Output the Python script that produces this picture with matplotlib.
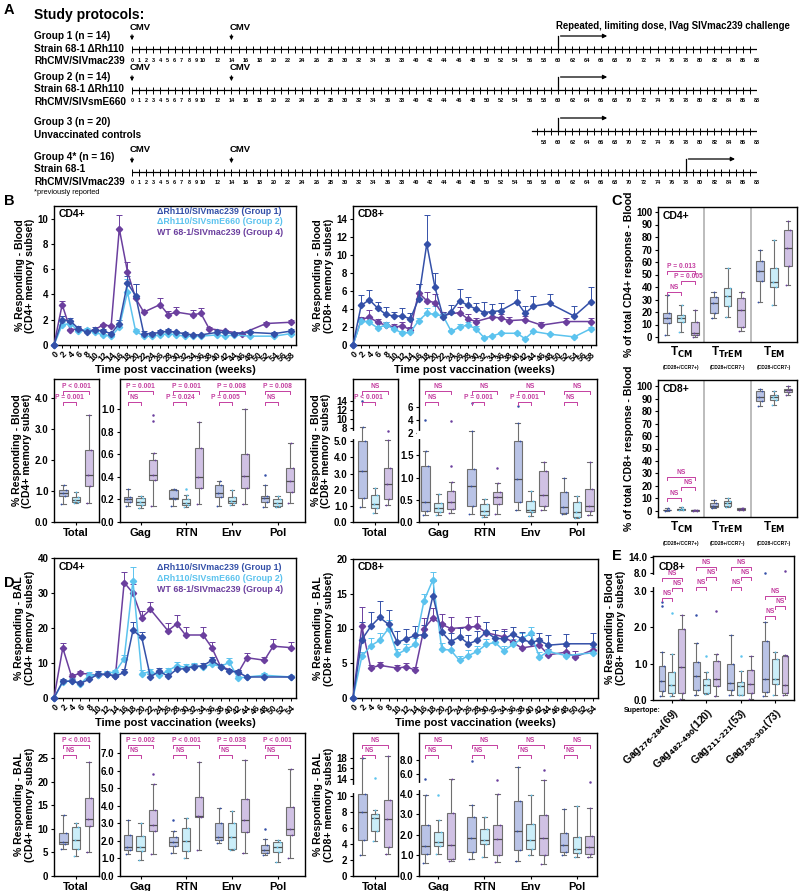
import numpy as np
import matplotlib.pyplot as plt
from matplotlib.transforms import blended_transform_factory

plt.rcParams['font.family'] = ['Liberation Sans', 'DejaVu Sans']
plt.rcParams['font.weight'] = 'bold'
plt.rcParams['axes.labelweight'] = 'bold'
plt.rcParams['mathtext.default'] = 'bf'
plt.rcParams['axes.linewidth'] = 1.0

C1, C2, C4 = '#3450a8', '#5cc3ee', '#6b3f9e'
F1, F2, F4 = '#b9c3e6', '#cbeef9', '#d0c1e4'
PINK = '#c43fa0'
EDGE = '#6f6f6f'

# ---------------- data ----------------
# panel B, blood, mean + SEM
wk_b12 = [0, 2, 4, 6, 8, 10, 12, 14, 16, 18, 20, 22, 24, 26, 28, 30, 32, 34, 36, 40, 42, 44, 48, 54, 58]
wk_b4 = [0, 2, 4, 6, 8, 10, 12, 14, 16, 18, 20, 22, 26, 28, 30, 34, 36, 38, 42, 46, 52, 58]
b_cd4_g1 = [0, 2.0, 1.9, 1.3, 1.0, 1.2, 1.1, 0.9, 1.7, 4.9, 3.9, 0.9, 0.9, 1.0, 1.1, 1.0, 0.9, 0.8, 0.8, 1.0, 1.0, 0.9, 1.0, 0.9, 1.1]
b_cd4_e1 = [0, .3, .2, .2, .1, .2, .2, .1, .3, .6, .9, .2, .1, .2, .15, .1, .1, .1, .1, .15, .1, .1, .1, .1, .15]
b_cd4_g2 = [0, 1.6, 1.7, 1.1, 1.2, 1.0, 0.8, 0.7, 1.4, 4.2, 1.1, 0.7, 0.7, 0.8, 0.9, 0.8, 0.7, 0.7, 0.7, 0.8, 0.7, 0.8, 0.7, 0.7, 0.9]
b_cd4_e2 = [0, .2, .2, .1, .15, .1, .1, .1, .3, 1.0, .2, .1, .1, .1, .1, .1, .1, .1, .1, .1, .1, .1, .1, .1, .1]
b_cd4_g4 = [0, 3.2, 1.2, 1.3, 1.1, 1.2, 1.6, 1.5, 9.2, 5.8, 3.7, 2.6, 3.2, 2.4, 2.6, 2.4, 2.5, 1.3, 1.1, 0.9, 1.7, 1.8]
b_cd4_e4 = [0, .3, .1, .1, .1, .1, .1, .1, 1.1, .8, 1.1, .2, .5, .3, .4, .4, .4, .1, .1, .1, .1, .15]
b_cd8_g1 = [0, 4.4, 5.0, 4.1, 3.4, 3.2, 3.2, 2.9, 5.1, 11.2, 6.4, 3.1, 3.7, 4.9, 4.4, 4.0, 3.6, 3.7, 3.8, 4.8, 3.5, 4.3, 4.6, 3.2, 4.8]
b_cd8_e1 = [0, 1.1, 1.1, .7, .8, .5, .9, .7, 1.7, 3.2, 1.6, .6, .7, 1.3, .9, .7, 1.2, .8, .9, 1.3, .8, 1.1, 1.1, 1.1, 1.6]
b_cd8_g2 = [0, 2.7, 2.5, 1.9, 2.2, 1.8, 1.3, 1.4, 2.7, 3.5, 3.4, 3.2, 1.5, 2.0, 2.2, 1.8, 0.8, 1.0, 1.3, 1.3, 0.7, 1.5, 1.2, 0.9, 1.8]
b_cd8_e2 = [0, .3, .3, .2, .3, .2, .2, .2, .3, .6, .9, .3, .2, .3, .3, .3, .1, .1, .1, .1, .1, .1, .1, .1, .2]
b_cd8_g4 = [0, 2.8, 3.1, 2.5, 2.2, 2.0, 2.1, 1.7, 5.8, 4.9, 4.7, 3.3, 3.6, 2.9, 2.6, 3.1, 3.0, 2.7, 2.8, 2.2, 2.6, 2.6]
b_cd8_e4 = [0, .3, .8, .4, .4, .3, .4, .3, 1.0, 1.0, 1.0, .4, .6, .5, .4, .5, .4, .4, .4, .4, .4, .4]

# panel D, BAL
wk_d12 = [0, 2, 4, 6, 8, 10, 12, 14, 16, 18, 20, 22, 24, 26, 28, 30, 32, 34, 36, 38, 40, 42, 44, 48, 54]
wk_d4 = [0, 2, 4, 6, 10, 12, 14, 16, 18, 20, 22, 26, 28, 30, 34, 36, 38, 42, 44, 48, 50, 54]
d_cd4_g1 = [0, 4.8, 4.8, 4.2, 5.3, 6.8, 6.8, 6.2, 7.3, 19.3, 17.4, 6.0, 7.7, 6.2, 8.2, 8.4, 9.0, 9.2, 10.8, 9.0, 7.7, 7.4, 6.0, 6.0, 6.0]
d_cd4_e1 = [0, .5, .5, .6, .8, 1.0, .6, .6, 1.0, 2.3, 1.5, .8, .8, .7, .8, .8, .8, .8, .8, .6, .6, .7, .4, .4, .4]
d_cd4_g2 = [0, 4.5, 5.0, 4.0, 6.5, 6.5, 7.0, 7.5, 11.2, 33.5, 7.0, 7.5, 6.5, 7.8, 9.2, 8.8, 9.2, 8.8, 9.7, 9.0, 10.2, 5.7, 6.0, 6.5, 6.0]
d_cd4_e2 = [0, .6, .6, .6, .8, .8, .6, .6, 1.2, 4.0, 1.0, .8, .8, .9, 1.1, .8, .8, .7, .8, .6, 1.2, .6, .4, .6, .5]
d_cd4_g4 = [0, 14.3, 6.2, 7.1, 6.5, 6.8, 6.2, 33.0, 30.0, 23.0, 25.3, 19.2, 21.2, 18.0, 18.0, 14.4, 9.0, 7.2, 11.5, 10.8, 14.8, 14.4]
d_cd4_e4 = [0, 1.3, .6, .5, .6, .4, .4, 3.0, 2.5, 2.0, 2.0, 2.2, 2.5, 2.2, 2.2, 1.6, .7, .8, 1.3, 1.0, 2.2, 1.5]
d_cd8_g1 = [0, 8.4, 10.3, 11.6, 10.6, 8.0, 8.5, 9.0, 9.1, 14.7, 9.5, 8.1, 8.8, 7.8, 8.3, 9.5, 8.6, 8.5, 9.2, 8.5, 8.0, 8.3, 7.6, 7.8, 7.8]
d_cd8_e1 = [0, 2.5, 2.1, 2.3, 2.1, 1.6, 1.4, 1.4, 1.4, 2.2, 1.3, 1.3, 1.3, 1.3, 1.3, 1.4, 1.2, 1.2, 1.0, 1.0, 1.0, 1.0, 1.5, 1.4, 1.6]
d_cd8_g2 = [0, 6.0, 7.5, 8.3, 10.0, 6.3, 7.0, 7.7, 14.0, 17.0, 7.0, 6.9, 5.4, 6.1, 6.7, 7.7, 8.0, 6.8, 7.7, 8.5, 9.3, 5.9, 6.7, 6.1, 6.5]
d_cd8_e2 = [0, .6, 1.2, 1.1, 1.2, .8, .8, 1.0, 1.0, 1.1, .9, .8, .7, .8, .8, .8, .7, .7, .8, .8, .9, .7, .8, .7, .8]
d_cd8_g4 = [0, 10.3, 4.3, 4.7, 4.3, 4.5, 4.0, 10.0, 11.5, 10.6, 10.0, 10.2, 10.3, 9.4, 8.8, 8.0, 7.2, 7.6, 6.2, 6.6, 5.9, 6.9]
d_cd8_e4 = [0, 2.8, .5, .5, .4, .6, .5, 1.5, 1.5, 1.5, 1.6, 1.4, 1.5, 1.6, 1.2, 1.2, 1.0, 1.1, .9, .9, .8, .9]

# box plots: [whisker low, q1, median, q3, whisker high, (outliers)]
b4tot_g1 = [[0.57, 0.85, 0.93, 1.02, 1.20]]
b4tot_g2 = [[0.60, 0.65, 0.70, 0.80, 0.98]]
b4tot_g4 = [[0.62, 1.15, 1.52, 2.33, 3.45]]
b4ag_g1 = [[0.14, 0.18, 0.20, 0.22, 0.29], [0.14, 0.20, 0.21, 0.28, 0.29], [0.14, 0.22, 0.26, 0.33, 0.36], [0.13, 0.18, 0.21, 0.23, 0.33, [0.42]]]
b4ag_g2 = [[0.12, 0.15, 0.18, 0.21, 0.23], [0.13, 0.15, 0.17, 0.20, 0.24, [0.29]], [0.15, 0.17, 0.19, 0.22, 0.28], [0.13, 0.14, 0.17, 0.20, 0.23]]
b4ag_g4 = [[0.14, 0.37, 0.42, 0.55, 0.61, [0.90, 0.95]], [0.16, 0.30, 0.40, 0.66, 0.89], [0.16, 0.30, 0.41, 0.60, 1.00], [0.17, 0.27, 0.36, 0.48, 0.70]]
b8tot_g1 = [[0.95, 1.50, 3.15, 5.00, 8.10, [13.8]]]
b8tot_g2 = [[0.55, 0.85, 1.10, 1.65, 2.10]]
b8tot_g4 = [[1.05, 1.40, 2.35, 3.35, 5.05, [7.2]]]
b8ag_g1 = [[0.15, 0.25, 0.45, 1.25, 1.60, [4.0]], [0.17, 0.35, 0.82, 1.20, 2.30, [6.6]], [0.28, 0.45, 0.97, 1.82, 3.60, [6.2]], [0.18, 0.20, 0.34, 0.68, 0.99]]
b8ag_g2 = [[0.15, 0.22, 0.32, 0.42, 0.63], [0.12, 0.15, 0.25, 0.40, 0.52], [0.14, 0.22, 0.27, 0.48, 0.70], [0.08, 0.12, 0.22, 0.45, 0.58]]
b8ag_g4 = [[0.20, 0.30, 0.45, 0.70, 0.90, [1.25, 3.8]], [0.18, 0.40, 0.57, 0.68, 0.87, [1.22]], [0.27, 0.35, 0.60, 1.15, 1.35], [0.16, 0.25, 0.36, 0.74, 1.35]]

d4tot_g1 = [[5.8, 6.8, 7.2, 9.2, 13.0]]
d4tot_g2 = [[4.2, 5.8, 7.6, 10.4, 11.3]]
d4tot_g4 = [[5.0, 10.6, 12.1, 16.5, 24.3]]
d4ag_g1 = [[1.25, 1.50, 1.65, 2.35, 3.20], [1.30, 1.70, 1.95, 2.25, 2.55, [3.2]], [1.90, 2.05, 2.25, 3.00, 3.90], [1.20, 1.30, 1.50, 1.75, 2.10, [2.7]]]
d4ag_g2 = [[0.90, 1.40, 1.65, 2.30, 3.05], [1.05, 1.40, 2.00, 2.75, 3.30], [1.50, 1.55, 2.25, 3.00, 3.70], [0.80, 1.35, 1.65, 1.95, 2.05]]
d4ag_g4 = [[1.25, 2.55, 2.90, 3.75, 5.25, [5.8]], [1.50, 3.35, 3.45, 4.50, 6.50], [1.30, 2.50, 3.20, 4.40, 6.60], [1.05, 2.35, 2.70, 3.95, 6.10]]
d8tot_g1 = [[2.7, 4.5, 8.0, 10.3, 18.0]]
d8tot_g2 = [[4.4, 5.6, 7.3, 7.8, 8.3, [14.2]]]
d8tot_g4 = [[2.8, 3.6, 7.2, 9.5, 18.3]]
d8ag_g1 = [[0.65, 1.05, 1.45, 2.50, 3.95, [5.3]], [0.85, 1.15, 1.85, 2.85, 3.45, [7.9]], [0.75, 1.25, 2.20, 3.65, 7.00], [1.00, 1.15, 1.50, 2.10, 3.25]]
d8ag_g2 = [[1.05, 1.45, 1.65, 2.15, 2.70, [3.95]], [0.90, 1.55, 1.75, 2.30, 2.85], [1.00, 1.30, 1.75, 2.55, 3.95], [0.90, 1.10, 1.30, 1.90, 3.40]]
d8ag_g4 = [[0.75, 0.85, 1.50, 3.05, 5.40], [0.70, 1.00, 1.80, 2.50, 4.00, [5.2]], [0.60, 1.00, 1.85, 2.95, 5.20, [6.6]], [0.90, 1.05, 1.40, 1.95, 3.30, [4.9]]]

c4_g1 = [[2, 11, 15, 19, 34], [15, 19, 27, 32, 36], [28, 45, 53, 61, 70]]
c4_g2 = [[4, 12, 15, 18, 26], [16, 25, 33, 39, 55], [26, 40, 44, 55, 78]]
c4_g4 = [[0, 2, 3, 12, 22], [5, 8, 22, 31, 36], [42, 57, 71, 86, 93]]
c8_g1 = [[0, 0.3, 0.6, 1.0, 2.0], [2, 3, 4, 6, 9], [84, 88, 91, 96, 98]]
c8_g2 = [[0.3, 0.8, 1.2, 1.6, 3.0], [3, 4, 6, 8, 10], [85, 89, 91, 93, 96]]
c8_g4 = [[0, 0.2, 0.4, 0.6, 1.0], [0.8, 1.0, 1.5, 2.0, 2.5], [93, 95, 97, 98, 100]]

e_g1 = [[0.12, 0.25, 0.52, 0.93, 1.33, [2.6, 2.7]], [0.14, 0.28, 0.67, 1.05, 1.57, [2.33]], [0.15, 0.28, 0.48, 1.00, 1.78], [0.10, 0.22, 0.57, 1.62, 2.15, [8.0]]]
e_g2 = [[0.10, 0.20, 0.42, 0.78, 1.27, [2.4]], [0.17, 0.18, 0.40, 0.58, 0.77, [1.22]], [0.15, 0.15, 0.38, 0.50, 0.80, [1.2]], [0.15, 0.45, 0.58, 1.12, 1.32]]
e_g4 = [[0.03, 0.20, 0.90, 1.95, 2.35], [0.12, 0.38, 0.57, 1.07, 1.28, [2.45]], [0.03, 0.20, 0.45, 0.83, 1.22], [0.15, 0.20, 0.42, 1.22, 1.25, [8.7]]]
e_labels = [r'Gag$_{276\text{-}284}$(69)', r'Gag$_{482\text{-}490}$(120)', r'Gag$_{211\text{-}221}$(53)', r'Gag$_{290\text{-}301}$(73)']

ag_labels = ['Gag', 'RTN', 'Env', 'Pol']
b4tot_p = [('P < 0.001', 'P = 0.001')]
b4ag_p = [('P = 0.001', 'NS'), ('P = 0.001', 'P = 0.024'), ('P = 0.008', 'P = 0.005'), ('P = 0.008', 'NS')]
b8tot_p = [('NS', 'P < 0.001')]
b8ag_p = [('NS', 'NS'), ('NS', 'P = 0.001'), ('NS', 'P = 0.001'), ('NS', 'NS')]
d4tot_p = [('P < 0.001', 'NS')]
d4ag_p = [('P = 0.002', 'NS'), ('P < 0.001', 'NS'), ('P = 0.038', 'NS'), ('P < 0.001', 'NS')]
d8tot_p = [('NS', 'NS')]
d8ag_p = [('NS', 'NS'), ('NS', 'NS'), ('NS', 'NS'), ('NS', 'NS')]
c4_p = ['P = 0.013', 'P = 0.005', 'NS']
c8_p = ['NS', 'NS', 'NS']

legend_txt = [('\u0394Rh110/SIVmac239 (Group 1)', C1), ('\u0394Rh110/SIVsmE660 (Group 2)', C2),
              ('WT 68-1/SIVmac239 (Group 4)', C4)]

# ---------------- figure ----------------
W, H = 800, 891
fig = plt.figure(figsize=(W / 100, H / 100), dpi=100)


def add_ax(l, t, r, b):
    return fig.add_axes([l / W, 1 - b / H, (r - l) / W, (b - t) / H])


def letter(x, y, s):
    fig.text(x / W, 1 - y / H, s, fontsize=10.5, fontweight='bold', va='center')


# ---- Panel A ----
axA = add_ax(132, 0, 757, 200)
axA.set_xlim(0, 88)
axA.set_ylim(200, 0)
axA.axis('off')
tx = (34 - 132) / 625 * 88
axA.text(tx, 15, 'Study protocols:', fontsize=10, va='center')
groups_txt = [
    (36, ['Group 1 (n = 14)', 'Strain 68-1 \u0394Rh110', 'RhCMV/SIVmac239']),
    (77, ['Group 2 (n = 14)', 'Strain 68-1 \u0394Rh110', 'RhCMV/SIVsmE660']),
    (122, ['Group 3 (n = 20)', 'Unvaccinated controls']),
    (157, ['Group 4* (n = 16)', 'Strain 68-1', 'RhCMV/SIVmac239']),
]
for y0, lines in groups_txt:
    for i, s in enumerate(lines):
        axA.text(tx, y0 + 12.5 * i, s, fontsize=7.2, va='center')
axA.text(tx, 193, '*previously reported', fontsize=5.3, fontweight='normal', va='center')

rows = [(49, 0, True, 60), (90, 0, True, 60), (131, 57, False, 60), (172, 0, True, 78)]
lab_weeks = list(range(0, 11)) + list(range(12, 89, 2))
for y, start, cmv, chal in rows:
    axA.plot([start - 0.7 if start else -0.3, 88.7], [y, y], color='k', lw=0.9)
    axA.vlines(np.arange(start, 89), y - 3.5, y + 3.5, color='k', lw=0.7)
    for w in lab_weeks:
        if w >= start + 1 or start == 0:
            axA.text(w, y + 11, str(w), fontsize=4.0, ha='center', va='center')
    if cmv:
        for w in (0, 14):
            axA.text(w - 0.3, y - 22, 'CMV', fontsize=6.8, va='center')
            axA.annotate('', xy=(w, y - 6), xytext=(w, y - 17),
                         arrowprops=dict(arrowstyle='-|>', lw=0.8, color='k', mutation_scale=5))
    axA.plot([chal, chal], [y, y - 13], color='k', lw=0.9)
    axA.annotate('', xy=(chal + 7.3, y - 13), xytext=(chal - 0.05, y - 13),
                 arrowprops=dict(arrowstyle='-|>', lw=0.9, color='k', mutation_scale=6))
axA.text(59.7, 26, 'Repeated, limiting dose, IVag SIVmac239 challenge', fontsize=6.9, va='center')
letter(4, 10, 'A')


# ---- line panels ----
def line_panel(ax, series, xmax, xlim, ylim, yticks, title, ylabel, legend=None):
    for wk, val, err, col in series:
        ax.errorbar(wk, val, yerr=[np.zeros(len(err)), err], color=col, marker='D', ms=3.2, lw=1.1,
                    capsize=2.3, elinewidth=0.7, capthick=0.7, clip_on=False, zorder=3)
    ax.set_xlim(0, xlim)
    ax.set_ylim(*ylim)
    ax.set_yticks(yticks)
    ax.set_xticks(range(0, xmax + 1, 2))
    ax.set_xticklabels([str(w) for w in range(0, xmax + 1, 2)], rotation=45, ha='right',
                       rotation_mode='anchor', fontsize=6.3)
    ax.tick_params(axis='y', labelsize=7, length=2.5, width=0.8, pad=1.5)
    ax.tick_params(axis='x', length=2, width=0.7, pad=1.5)
    ax.set_xlabel('Time post vaccination (weeks)', fontsize=8, labelpad=1)
    ax.set_ylabel(ylabel, fontsize=7.6, labelpad=2, linespacing=1.05)
    ax.text(0.02, 0.975, title, transform=ax.transAxes, fontsize=7.5, va='top')
    if legend:
        for (s, c), yf in zip(legend_txt, legend):
            ax.text(0.425, yf, s, color=c, fontsize=6.4, transform=ax.transAxes, va='center')


ax = add_ax(54, 206, 296, 345)
line_panel(ax, [(wk_b4, b_cd4_g4, b_cd4_e4, C4), (wk_b12, b_cd4_g2, b_cd4_e2, C2), (wk_b12, b_cd4_g1, b_cd4_e1, C1)],
           58, 59.3, (0, 11), range(0, 11, 2), 'CD4+', '% Responding - Blood\n(CD4+ memory subset)',
           legend=[0.964, 0.885, 0.806])
ax = add_ax(353, 206, 596, 345)
line_panel(ax, [(wk_b4, b_cd8_g4, b_cd8_e4, C4), (wk_b12, b_cd8_g2, b_cd8_e2, C2), (wk_b12, b_cd8_g1, b_cd8_e1, C1)],
           58, 59.3, (0, 15.4), range(0, 15, 2), 'CD8+', '% Responding - Blood\n(CD8+ memory subset)')
ax = add_ax(54, 558, 296, 698)
line_panel(ax, [(wk_d4, d_cd4_g4, d_cd4_e4, C4), (wk_d12, d_cd4_g2, d_cd4_e2, C2), (wk_d12, d_cd4_g1, d_cd4_e1, C1)],
           54, 55.2, (0, 40), range(0, 41, 10), 'CD4+', '% Responding - BAL\n(CD4+ memory subset)',
           legend=[0.929, 0.853, 0.777])
ax = add_ax(353, 559, 598, 698)
line_panel(ax, [(wk_d4, d_cd8_g4, d_cd8_e4, C4), (wk_d12, d_cd8_g2, d_cd8_e2, C2), (wk_d12, d_cd8_g1, d_cd8_e1, C1)],
           54, 55.2, (0, 20), range(0, 21, 5), 'CD8+', '% Responding - BAL\n(CD8+ memory subset)')
letter(4, 201, 'B')
letter(4, 583, 'D')


# ---- box panels ----
def piecewise(vk, pk):
    vk, pk = np.asarray(vk, float), np.asarray(pk, float)

    def mk(a, b):
        def f(v):
            v = np.asarray(v, float)
            out = np.interp(v, a, b)
            out = np.where(v < a[0], b[0] + (v - a[0]) * (b[1] - b[0]) / (a[1] - a[0]), out)
            out = np.where(v > a[-1], b[-1] + (v - a[-1]) * (b[-1] - b[-2]) / (a[-1] - a[-2]), out)
            return out
        return f
    return mk(vk, pk), mk(pk, vk)


def bracket(ax, x1, x2, yf, text, leg=0.02, fs=4.8):
    tr = blended_transform_factory(ax.transData, ax.transAxes)
    ax.plot([x1, x1, x2, x2], [yf - leg, yf, yf, yf - leg], color=PINK, lw=0.7, transform=tr, clip_on=False)
    ax.text((x1 + x2) / 2, yf + 0.006, text, color=PINK, fontsize=fs, ha='center', va='bottom', transform=tr)


DOT_DX = [-0.25, 0.22, -0.08, 0.26, 0.05]


def boxes(ax, g1, g2, g4, off, width):
    for stats, o, fc, col in ((g1, -off, F1, C1), (g2, 0, F2, C2), (g4, off, F4, C4)):
        bs = [dict(whislo=s[0], q1=s[1], med=s[2], q3=s[3], whishi=s[4], fliers=s[5] if len(s) > 5 else [])
              for s in stats]
        pos = np.arange(len(stats)) + o
        ax.bxp(bs, positions=pos, widths=width, patch_artist=True, manage_ticks=False,
               capwidths=width * 0.55,
               boxprops=dict(facecolor=fc, edgecolor=EDGE, linewidth=0.8),
               medianprops=dict(color='#505050', linewidth=0.9),
               whiskerprops=dict(color=EDGE, linewidth=0.8),
               capprops=dict(color=EDGE, linewidth=0.8),
               flierprops=dict(marker='o', markersize=1.8, markerfacecolor=col, markeredgecolor='none'))
        for p, s in zip(pos, stats):
            ax.scatter(p + np.array(DOT_DX) * width, s[:5], s=1.6, color=col, zorder=4, linewidths=0)


def box_panel(ax, g1, g2, g4, labels, pvals, ylim, yticks, ylabels, xlim, ylabel=None,
              scale=None, gap=None, pos=(0.918, 0.841), off=0.28, width=0.18):
    if scale:
        ax.set_yscale('function', functions=piecewise(*scale))
    boxes(ax, g1, g2, g4, off, width)
    ax.set_xlim(*xlim)
    ax.set_ylim(*ylim)
    ax.set_yticks(yticks)
    ax.set_yticklabels(ylabels)
    ax.set_xticks(range(len(labels)))
    ax.set_xticklabels(labels, fontsize=8)
    ax.tick_params(axis='y', labelsize=7, length=2.5, width=0.8, pad=1.5)
    ax.tick_params(axis='x', length=2.5, width=0.8, pad=1.5)
    ax.minorticks_off()
    for i, (top, low) in enumerate(pvals):
        bracket(ax, i - off, i + off, pos[0], top)
        bracket(ax, i - off, i, pos[1], low)
    if gap:
        tr = blended_transform_factory(ax.transAxes, ax.transData)
        ax.plot([0, 0], gap, color='white', lw=3, transform=tr, clip_on=False, zorder=10)
    if ylabel:
        ax.set_ylabel(ylabel, fontsize=7.6, labelpad=2, linespacing=1.05)


ax = add_ax(54, 379, 99, 522)
box_panel(ax, b4tot_g1, b4tot_g2, b4tot_g4, ['Total'], b4tot_p, (0, 4.6), [0, 1, 2, 3, 4],
          ['0.0', '1.0', '2.0', '3.0', '4.0'], (-0.49, 0.51), '% Responding - Blood\n(CD4+ memory subset)')
ax = add_ax(120, 379, 305, 522)
box_panel(ax, b4ag_g1, b4ag_g2, b4ag_g4, ag_labels, b4ag_p, (0, 1.27), [0, .2, .4, .6, .8, 1.0],
          ['0.0', '0.2', '0.4', '0.6', '0.8', '1.0'], (-0.45, 3.6))
ax = add_ax(353, 379, 398, 522)
box_panel(ax, b8tot_g1, b8tot_g2, b8tot_g4, ['Total'], b8tot_p, (0, 18.8), [0, 1, 2, 3, 4, 5, 8, 10, 12, 14],
          ['0.0', '1.0', '2.0', '3.0', '4.0', '5.0', '8', '10', '12', '14'], (-0.49, 0.51),
          '% Responding - Blood\n(CD8+ memory subset)',
          scale=([0, 5.2, 7, 20], [0, 84, 90, 148.5]), gap=[5.4, 6.7])
ax = add_ax(419, 379, 597, 522)
box_panel(ax, b8ag_g1, b8ag_g2, b8ag_g4, ag_labels, b8ag_p, (0, 10.3), [0, .5, 1, 1.5, 2, 4, 6],
          ['0.0', '0.5', '1.0', '1.5', '2', '4', '6'], (-0.42, 3.44),
          scale=([0, 1.9, 2.0, 11], [0, 84.4, 89, 147.5]), gap=[1.91, 1.99])

ax = add_ax(54, 733, 99, 876)
box_panel(ax, d4tot_g1, d4tot_g2, d4tot_g4, ['Total'], d4tot_p, (0, 30.4), [0, 5, 10, 15, 20, 25],
          ['0', '5', '10', '15', '20', '25'], (-0.49, 0.51), '% Responding - BAL\n(CD4+ memory subset)',
          pos=(0.916, 0.847))
ax = add_ax(120, 733, 305, 876)
box_panel(ax, d4ag_g1, d4ag_g2, d4ag_g4, ag_labels, d4ag_p, (0, 8.17), [0, 1, 2, 3, 4, 5, 6, 7],
          ['0.0', '1.0', '2.0', '3.0', '4.0', '5.0', '6.0', '7.0'], (-0.45, 3.6), pos=(0.916, 0.847))
ax = add_ax(353, 733, 398, 876)
box_panel(ax, d8tot_g1, d8tot_g2, d8tot_g4, ['Total'], d8tot_p, (0, 22.8), [0, 2, 4, 6, 8, 10, 14, 16, 18],
          ['0', '2', '4', '6', '8', '10', '14', '16', '18'], (-0.49, 0.51), '% Responding - BAL\n(CD8+ memory subset)',
          scale=([0, 10.6, 12.5, 23], [0, 84.4, 89.6, 144.2]), gap=[10.8, 12.2], pos=(0.916, 0.847))
ax = add_ax(419, 733, 597, 876)
box_panel(ax, d8ag_g1, d8ag_g2, d8ag_g4, ag_labels, d8ag_p, (0, 11.74), [0, 1, 2, 3, 4, 6, 8],
          ['0.0', '1.0', '2.0', '3.0', '4.0', '6.0', '8.0'], (-0.42, 3.44),
          scale=([0, 4.25, 4.6, 12], [0, 87.5, 91.6, 144.9]), gap=[4.3, 4.55], pos=(0.916, 0.847))


# ---- panel C ----
def c_panel(ax, g1, g2, g4, pvals, pos, title, ylim, ylabel):
    boxes(ax, g1, g2, g4, 0.3, 0.17)
    ax.set_xlim(-0.5, 2.5)
    ax.set_ylim(*ylim)
    ax.set_yticks(range(0, 101, 10))
    for xv in (0.5, 1.5):
        ax.axvline(xv, color='#b0b0b0', lw=1.2)
    ax.set_xticks([0, 1, 2])
    ax.set_xticklabels([r'T$_{\rm CM}$', r'T$_{\rm TrEM}$', r'T$_{\rm EM}$'], fontsize=8.5)
    tr = blended_transform_factory(ax.transData, ax.transAxes)
    for i, s in enumerate(['(CD28+/CCR7+)', '(CD28+/CCR7-)', '(CD28-/CCR7-)']):
        ax.text(i, -0.19, s, fontsize=3.5, ha='center', va='center', transform=tr)
    ax.tick_params(axis='y', labelsize=7, length=2.5, width=0.8, pad=1.5)
    ax.tick_params(axis='x', length=0, pad=2)
    bracket(ax, -0.3, 0.3, pos[0], pvals[0])
    bracket(ax, 0.0, 0.3, pos[1], pvals[1])
    bracket(ax, -0.3, 0.0, pos[2], pvals[2])
    ax.text(0.03, 0.97, title, transform=ax.transAxes, fontsize=7.5, va='top')
    ax.set_ylabel(ylabel, fontsize=7.6, labelpad=2)


ax = add_ax(658, 207, 797, 342)
c_panel(ax, c4_g1, c4_g2, c4_g4, c4_p, (0.526, 0.452, 0.37), 'CD4+', (-4, 104), '% of total CD4+ response - Blood')
ax = add_ax(658, 380, 797, 517)
c_panel(ax, c8_g1, c8_g2, c8_g4, c8_p, (0.292, 0.219, 0.139), 'CD8+', (-5, 105), '% of total CD8+ response - Blood')
letter(611, 201, 'C')

# ---- panel E ----
ax = add_ax(653, 556, 794, 700)
ax.set_yscale('function', functions=piecewise([0, 3.15, 7.0, 14.3], [0, 113.4, 123.3, 142.8]))
boxes(ax, e_g1, e_g2, e_g4, 0.29, 0.2)
ax.set_xlim(-0.55, 3.55)
ax.set_ylim(0, 14.3)
ax.set_yticks([0, 1, 2, 3, 8, 14])
ax.set_yticklabels(['0.0', '1.0', '2.0', '3.0', '8.0', '14.0'])
ax.minorticks_off()
ax.set_xticks(range(4))
ax.set_xticklabels(e_labels, rotation=45, ha='right', rotation_mode='anchor', fontsize=7.5)
ax.tick_params(axis='y', labelsize=7, length=2.5, width=0.8, pad=1.5)
ax.tick_params(axis='x', length=2.5, width=0.8, pad=1.5)
tr = blended_transform_factory(ax.transAxes, ax.transData)
ax.plot([0, 0], [3.4, 6.5], color='white', lw=3, transform=tr, clip_on=False, zorder=10)
e_levels = [(0.847, 0.778, 0.708), (0.924, 0.854, 0.785), (0.924, 0.854, 0.785), (0.722, 0.653, 0.583)]
for i, (a, b, c) in enumerate(e_levels):
    bracket(ax, i - 0.29, i + 0.29, a, 'NS')
    bracket(ax, i, i + 0.29, b, 'NS')
    bracket(ax, i - 0.29, i, c, 'NS')
ax.text(0.04, 0.96, 'CD8+', transform=ax.transAxes, fontsize=7.5, va='top')
ax.set_ylabel('% Responding - Blood\n(CD8+ memory subset)', fontsize=7.6, labelpad=2, linespacing=1.05)
fig.text(642 / W, 1 - 711 / H, 'Supertope:', fontsize=5, ha='center', va='center')
letter(612, 556, 'E')

fig.savefig('out.png', dpi=100)
